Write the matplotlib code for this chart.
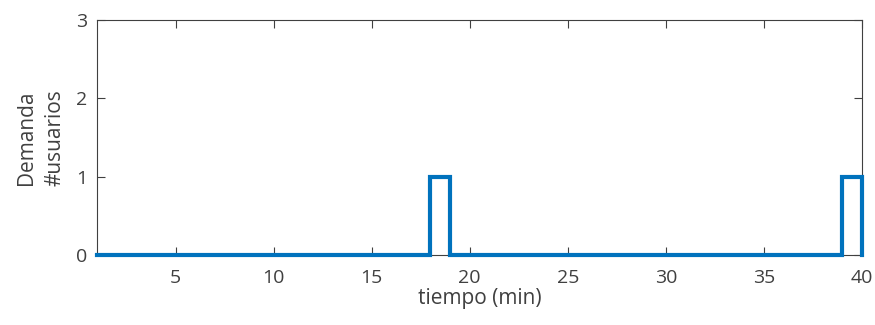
import matplotlib.pyplot as plt
import numpy as np

plt.rcParams['font.family'] = ['Open Sans', 'DejaVu Sans']

tiempo = list(range(1, 41))
demanda = [0, 0, 0, 0, 0, 0, 0, 0, 0, 0,
           0, 0, 0, 0, 0, 0, 0, 1, 0, 0,
           0, 0, 0, 0, 0, 0, 0, 0, 0, 0,
           0, 0, 0, 0, 0, 0, 0, 0, 1, 0]
xticks = [5, 10, 15, 20, 25, 30, 35, 40]
yticks = [0, 1, 2, 3]

gris = '#404040'

fig = plt.figure(figsize=(8.75, 3.25), dpi=100)
ax = fig.add_axes([0.111, 0.215, 0.874, 0.723])
ax.step(tiempo, demanda, where='post', color='#0072BD', linewidth=3,
        solid_joinstyle='miter', clip_on=False, zorder=3)

ax.set_xlim(1, 40)
ax.set_ylim(0, 3)
ax.set_xticks(xticks)
ax.set_yticks(yticks)
ax.tick_params(direction='in', top=True, right=True, length=6, width=0.8,
               colors=gris, labelsize=14)
ax.tick_params(axis='x', pad=10)
ax.tick_params(axis='y', pad=7)
for s in ax.spines.values():
    s.set_color(gris)
    s.set_linewidth(0.8)

ax.set_xlabel('tiempo (min)', fontsize=15, color=gris, labelpad=1)
ax.set_ylabel('Demanda\n#usuarios', fontsize=15, color=gris, labelpad=8,
              linespacing=1.45)

fig.savefig('out.png', dpi=100)
